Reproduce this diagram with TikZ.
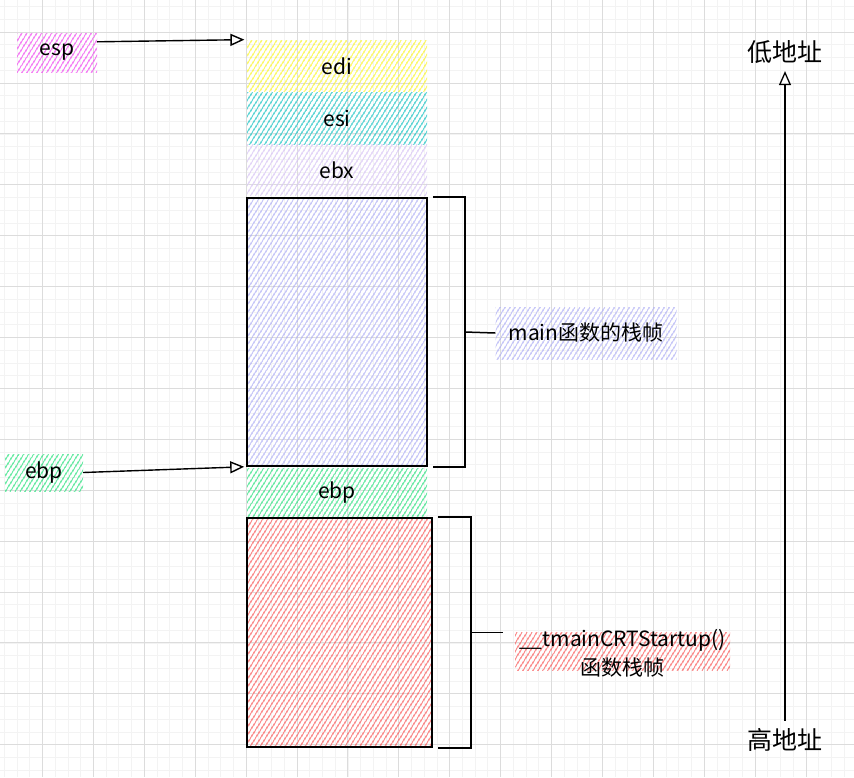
\documentclass[tikz,border=0pt]{standalone}
\usepackage{fontspec}
\usepackage{xcolor}
\usetikzlibrary{positioning,calc,patterns.meta,arrows.meta}
\newfontfamily\cjk{Noto Sans CJK SC}
\definecolor{hatchmagenta}{RGB}{240, 70, 240}
\definecolor{hatchyellow}{RGB}{250, 245, 40}
\definecolor{hatchcyan}{RGB}{20, 195, 195}
\definecolor{hatchlilac}{RGB}{215, 195, 245}
\definecolor{hatchblue}{RGB}{175, 175, 245}
\definecolor{hatchgreen}{RGB}{40, 225, 125}
\definecolor{hatchred}{RGB}{250, 90, 90}
\definecolor{gridmajor}{RGB}{220, 220, 220}
\definecolor{gridminor}{RGB}{243, 243, 243}

\tikzset{
  hatch/.style={pattern={Lines[angle=58,distance=4pt,line width=1.2pt]},pattern color=#1},
  slot/.style={minimum width=180pt,minimum height=51.5pt,inner sep=0pt},
  ptr/.style={line width=1.4pt,-{Triangle[open,length=14pt,width=12pt]}},
  bracketline/.style={line width=1.5pt},
}

\begin{document}
\begin{tikzpicture}[x=1pt,y=-1pt,every node/.style={font=\cjk\fontsize{21}{25}\selectfont}]
        % Background and grid
        \fill[white] (0,0) rectangle (854,777);
        \useasboundingbox (0,0) rectangle (854,777);
        \foreach \i in {0,...,68} \draw[gridminor,line width=0.8pt] ({-8.4+12.725*\i},0) -- ++(0,777);
        \foreach \i in {0,...,62} \draw[gridminor,line width=0.8pt] (0,{-18.8+12.725*\i}) -- ++(854,0);
        \foreach \i in {0,...,17} \draw[gridmajor,line width=1pt] ({-8.4+50.9*\i},0) -- ++(0,777);
        \foreach \i in {0,...,15} \draw[gridmajor,line width=1pt] (0,{-18.8+50.9*\i}) -- ++(854,0);

        % Saved registers
        \node[slot,hatch=hatchyellow] (edi) at (337,66) {edi};
        \node[slot,hatch=hatchcyan,below=0pt of edi] (esi) {esi};
        \node[slot,hatch=hatchlilac,below=0pt of esi] (ebx) {ebx};

        % Frames
        \node[slot,draw,line width=1.6pt,minimum height=268pt,hatch=hatchblue] (mainframe) at (337,332) {};
        \node[slot,minimum height=50pt,hatch=hatchgreen,below=1pt of mainframe] (ebpslot) {ebp};
        \node[slot,draw,line width=1.6pt,minimum width=185pt,minimum height=229pt,hatch=hatchred] (crtframe) at (339.5,632.5) {};

        % Pointers
        \node[hatch=hatchmagenta,minimum width=80pt,minimum height=39pt] (espptr) at (57,52.5) {esp};
        \node[hatch=hatchgreen,minimum width=78pt,minimum height=37pt] (ebpptr) at (44,472.5) {ebp};
        \draw[ptr] ([yshift=-9pt]espptr.north east) -- ([xshift=-2pt]edi.north west);
        \draw[ptr] (ebpptr.east) -- ([xshift=-2pt]mainframe.south west);

        % Brackets
        \node[hatch=hatchblue,minimum width=181pt,minimum height=52pt] (mainlbl) at (586,333) {main函数的栈帧};
        \draw[bracketline] ([xshift=5pt]mainframe.north east) -- ++(32,0) -- ($(mainframe.south east)+(37,0)$) -- ([xshift=5pt]mainframe.south east);
        \draw[bracketline] ($(mainframe.east)+(37,0)$) -- (mainlbl.west);

        \node[hatch=hatchred,minimum width=215pt,minimum height=38pt,inner sep=0pt] (crtbg) at (622.5,651) {};
        \node[align=center,inner sep=0pt,font=\cjk\fontsize{21}{29}\selectfont] (crtlbl) at (622.5,653) {\_\_tmainCRTStartup()\\函数栈帧};
        \draw[bracketline] ([xshift=5pt]crtframe.north east) -- ++(33,0) -- ($(crtframe.south east)+(38,0)$) -- ([xshift=5pt]crtframe.south east);
        \draw[bracketline] ($(crtframe.east)+(38,0)$) -- ++(32,0) coordinate (crttick);

        % Address direction
        \node[font=\cjk\fontsize{25}{30}\selectfont] (low) at (785,52) {低地址};
        \node[font=\cjk\fontsize{25}{30}\selectfont] (high) at (785,740) {高地址};
        \draw[ptr,line width=1.3pt] ([yshift=4pt]high.north) -- ([yshift=-4pt]low.south);
\end{tikzpicture}
\end{document}
